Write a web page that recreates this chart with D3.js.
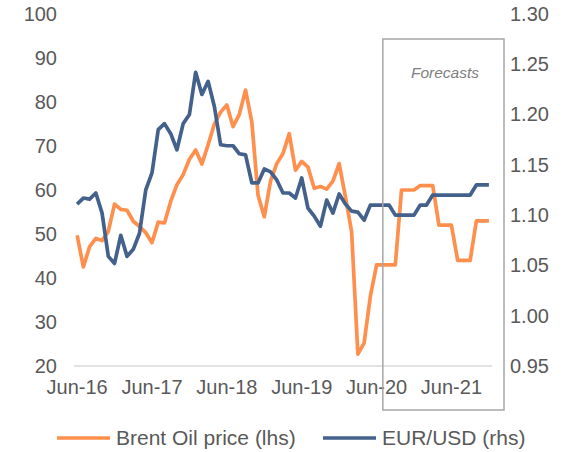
<!DOCTYPE html>
<html>
<head>
<meta charset="utf-8">
<script src="https://cdn.jsdelivr.net/npm/d3@7"></script>
<style>
  body { margin: 0; background: #fff; }
  svg { display: block; font-family: "Liberation Sans", Arial, sans-serif; }
</style>
</head>
<body>
<svg id="chart" width="567" height="452"></svg>
<script>
// monthly, Jun-16 .. Dec-21 (forecasts from Jul-20)
var months = d3.timeMonth.range(new Date(2016, 5, 1), new Date(2022, 0, 1));
var tickLabels = ["Jun-16", "Jun-17", "Jun-18", "Jun-19", "Jun-20", "Jun-21"];

var brent = [
  49.7, 42.5, 47.1, 49.0, 48.5, 50.6, 56.8, 55.6, 55.4, 52.9, 51.7, 50.3,
  48.0, 52.7, 52.5, 57.4, 61.2, 63.5, 67.0, 69.1, 65.9, 70.3, 75.0, 77.7,
  79.3, 74.4, 77.2, 82.7, 75.5, 58.8, 53.9, 62.0, 66.0, 68.3, 72.8, 64.5,
  66.5, 65.2, 60.4, 60.8, 60.2, 62.0, 66.0, 58.5, 50.5, 22.7, 25.2, 35.8,
  43.0, 43.0, 43.0, 43.0, 60.0, 60.0, 60.0, 61.0, 61.0, 61.0, 52.0, 52.0,
  52.0, 44.0, 44.0, 44.0, 53.0, 53.0, 53.0
];
var eurusd = [
  1.111, 1.117, 1.116, 1.122, 1.102, 1.059, 1.052, 1.080, 1.059, 1.066, 1.082, 1.125,
  1.142, 1.185, 1.191, 1.181, 1.165, 1.191, 1.200, 1.242, 1.220, 1.233, 1.208, 1.170,
  1.169, 1.169, 1.161, 1.160, 1.132, 1.132, 1.146, 1.143, 1.135, 1.122, 1.122, 1.117,
  1.137, 1.107, 1.099, 1.089, 1.115, 1.102, 1.121, 1.111, 1.104, 1.103, 1.095, 1.110,
  1.110, 1.110, 1.110, 1.100, 1.100, 1.100, 1.100, 1.110, 1.110, 1.120, 1.120, 1.120,
  1.120, 1.120, 1.120, 1.120, 1.130, 1.130, 1.130
];
var leftTicks = [20, 30, 40, 50, 60, 70, 80, 90, 100];
var rightTicks = [0.95, 1.00, 1.05, 1.10, 1.15, 1.20, 1.25, 1.30];
var forecastStart = 49; // Jul-20

var svg = d3.select("#chart");
var fmt = d3.timeFormat("%b-%y");
var labels = months.map(fmt);

var x = d3.scaleBand().domain(labels).range([74, 492]);
var yL = d3.scaleLinear().domain([20, 100]).range([366, 14]);
var yR = d3.scaleLinear().domain([0.95, 1.30]).range([366, 14]);
var cx = function(i) { return x(labels[i]) + x.bandwidth() / 2; };

var textCol = "#595959";

// baseline
svg.append("line")
  .attr("x1", x.range()[0]).attr("x2", x.range()[1])
  .attr("y1", yL(20)).attr("y2", yL(20))
  .attr("stroke", "#d9d9d9").attr("stroke-width", 1.3);

// left axis
var gL = svg.append("g").attr("transform", "translate(57,0)")
  .call(d3.axisLeft(yL).tickValues(leftTicks).tickSize(0).tickPadding(0).tickFormat(d3.format("d")));
// right axis
var gR = svg.append("g").attr("transform", "translate(510,0)")
  .call(d3.axisRight(yR).tickValues(rightTicks).tickSize(0).tickPadding(0).tickFormat(d3.format(".2f")));
// bottom axis
var gB = svg.append("g").attr("transform", "translate(0," + 380 + ")")
  .call(d3.axisBottom(x).tickValues(tickLabels).tickSize(0).tickPadding(0));

[gL, gR, gB].forEach(function(g) {
  g.select(".domain").remove();
  g.selectAll("text").attr("fill", textCol).style("font-size", "20px")
    .style("font-family", "'Liberation Sans', Arial, sans-serif");
});
gB.selectAll("text").attr("dy", "0.71em");

// lines
var lineL = d3.line().x(function(d, i) { return cx(i); }).y(function(d) { return yL(d); });
var lineR = d3.line().x(function(d, i) { return cx(i); }).y(function(d) { return yR(d); });

svg.append("path").datum(brent)
  .attr("d", lineL).attr("fill", "none")
  .attr("stroke", "#ff8f4d").attr("stroke-width", 3.7).attr("stroke-linejoin", "round");
svg.append("path").datum(eurusd)
  .attr("d", lineR).attr("fill", "none")
  .attr("stroke", "#44618b").attr("stroke-width", 3.7).attr("stroke-linejoin", "round");

// forecast box
var bx = cx(forecastStart);
svg.append("rect")
  .attr("x", bx).attr("y", 39)
  .attr("width", 504 - bx).attr("height", 371)
  .attr("fill", "none").attr("stroke", "#a6a6a6").attr("stroke-width", 1.5);
svg.append("text")
  .attr("x", 445).attr("y", 78)
  .attr("text-anchor", "middle")
  .attr("fill", "#7f7f7f")
  .style("font-size", "15.5px").style("font-style", "italic")
  .text("Forecasts");

// legend
var legend = [
  { name: "Brent Oil price (lhs)", color: "#ff8f4d", x: 57 },
  { name: "EUR/USD (rhs)", color: "#44618b", x: 323 }
];
var lg = svg.selectAll(".lg").data(legend).enter().append("g")
  .attr("transform", function(d) { return "translate(" + d.x + ",438)"; });
lg.append("line").attr("x1", 0).attr("x2", 53).attr("y1", 0).attr("y2", 0)
  .attr("stroke", function(d) { return d.color; }).attr("stroke-width", 3.7);
lg.append("text").attr("x", 59).attr("dy", "0.35em")
  .attr("fill", textCol).style("font-size", "21px")
  .text(function(d) { return d.name; });
</script>
</body>
</html>
